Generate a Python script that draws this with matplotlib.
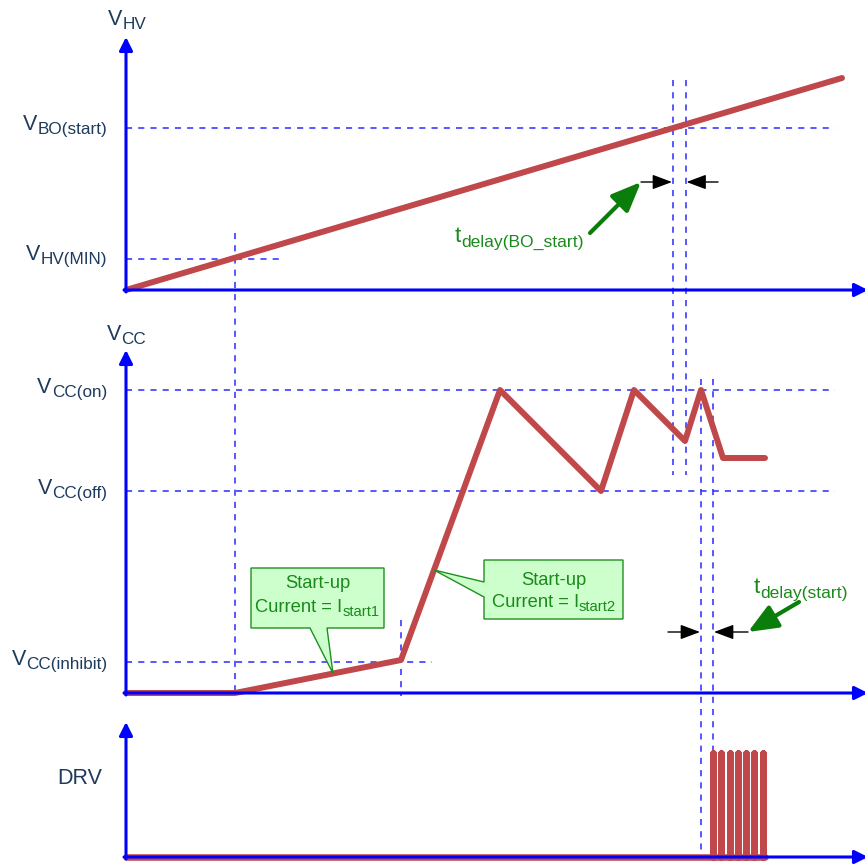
import matplotlib
matplotlib.use("Agg")
import matplotlib.pyplot as plt
from matplotlib.patches import Polygon, FancyArrowPatch

plt.rcParams['font.family'] = ['Liberation Sans', 'DejaVu Sans']

# ---------------- data (time in arbitrary units, levels in arbitrary units) -------------
t_hv = [0.0, 7.16]
v_hv = [0.0, 21.2]
V_HV_MIN = 3.1
V_BO_START = 16.2

t_vcc = [0.0, 1.09, 2.75, 3.74, 4.75, 5.08, 5.59, 5.75, 5.97, 6.39]
v_vcc = [0.0, 0.0, 3.3, 30.3, 20.2, 30.3, 25.2, 30.3, 23.5, 23.5]
VCC_ON = 30.3
VCC_OFF = 20.2
VCC_INHIBIT = 3.1

drv_pulse_t = [5.87, 5.953, 6.037, 6.12, 6.203, 6.283, 6.367]
DRV_HIGH = 10.4
drv_end = 6.39

T_HVMIN = 1.09
T_INHIBIT = 2.75
T_BO = 5.47
T_BO_DELAY = 5.595
T_ON = 5.75
T_START = 5.87

# ---------------- layout ----------------
BASE = {'hv': 575, 'cc': 172, 'drv': 8}
GAIN = 10.0
PX_PER_T = 100.0


def Y(panel, v):
    return BASE[panel] + v * GAIN


RED = '#c0474a'
BLUE = '#0000ff'
DASH = '#2a2aff'
NAVY = '#1e3a5c'
GREEN_T = '#1a8a1a'
GREEN_A = '#0b7d0b'

fig = plt.figure(figsize=(8.65, 8.65), dpi=100)
ax = fig.add_axes([0, 0, 1, 1])
ax.set_xlim(-1.26, 7.39)
ax.set_ylim(0, 865)
ax.axis('off')
renderer = fig.canvas.get_renderer()


def sublabel(x, y, main, sub, size, subsize, color, ha, drop=4, zorder=7):
    tm = ax.text(0, 0, main, fontsize=size, color=color, ha='left', va='baseline',
                 zorder=zorder)
    ts = ax.text(0, 0, sub, fontsize=subsize, color=color, ha='left', va='baseline',
                 zorder=zorder)
    wm = tm.get_window_extent(renderer).width / PX_PER_T
    ws = ts.get_window_extent(renderer).width / PX_PER_T
    total = wm + ws
    if ha == 'left':
        x0 = x
    elif ha == 'right':
        x0 = x - total
    else:
        x0 = x - total / 2
    tm.set_position((x0, y))
    ts.set_position((x0 + wm, y - drop))


dash_kw = dict(color=DASH, lw=1.1, linestyle=(0, (4, 4)), zorder=2)

# horizontal dashed levels
ax.plot([0, 7.09], [Y('hv', V_BO_START)] * 2, **dash_kw)
ax.plot([0, 1.54], [Y('hv', V_HV_MIN)] * 2, **dash_kw)
ax.plot([0, 7.09], [Y('cc', VCC_ON)] * 2, **dash_kw)
ax.plot([0, 7.09], [Y('cc', VCC_OFF)] * 2, **dash_kw)
ax.plot([0, 3.06], [Y('cc', VCC_INHIBIT)] * 2, **dash_kw)

# vertical dashed markers
ax.plot([T_HVMIN] * 2, [Y('hv', 5.7), Y('cc', -0.3)], **dash_kw)
ax.plot([T_INHIBIT] * 2, [Y('cc', 7.3), Y('cc', -0.3)], **dash_kw)
for tt in (T_BO, T_BO_DELAY):
    ax.plot([tt] * 2, [Y('hv', 21.0), Y('cc', 21.8)], **dash_kw)
for tt in (T_ON, T_START):
    ax.plot([tt] * 2, [Y('cc', 31.4), Y('drv', -0.3)], **dash_kw)

# traces
red_kw = dict(color=RED, lw=4.3, solid_capstyle='round', solid_joinstyle='round', zorder=3)
ax.plot(t_hv, [Y('hv', v) for v in v_hv], **red_kw)
ax.plot(t_vcc, [Y('cc', v) for v in v_vcc], **red_kw)
drv_t = [0.0]
drv_v = [0.0]
for tp in drv_pulse_t:
    drv_t += [tp, tp, tp]
    drv_v += [0.0, DRV_HIGH, 0.0]
drv_t.append(drv_end)
drv_v.append(0.0)
ax.plot(drv_t, [Y('drv', v) for v in drv_v], color=RED, lw=4.7,
        solid_capstyle='round', solid_joinstyle='round', zorder=3)


# axes with arrows
def axis_arrow(p0, p1):
    a = FancyArrowPatch(p0, p1, arrowstyle='-|>,head_length=8,head_width=4',
                        mutation_scale=1, color=BLUE, lw=2.2, shrinkA=0, shrinkB=0,
                        zorder=5)
    ax.add_patch(a)


axis_arrow((0, Y('hv', -0.2)), (0, Y('hv', 25.3)))
axis_arrow((-0.02, Y('hv', 0)), (7.42, Y('hv', 0)))
axis_arrow((0, Y('cc', -0.2)), (0, Y('cc', 34.3)))
axis_arrow((-0.02, Y('cc', 0)), (7.42, Y('cc', 0)))
axis_arrow((0, Y('drv', -0.2)), (0, Y('drv', 13.5)))
axis_arrow((-0.02, Y('drv', 0)), (7.42, Y('drv', 0)))

# labels
MS, SS = 15.5, 12.3
LX = -0.19
sublabel(LX, Y('hv', V_BO_START) - 2, 'V', 'BO(start)', MS, SS, NAVY, 'right')
sublabel(LX, Y('hv', V_HV_MIN) - 1, 'V', 'HV(MIN)', MS, SS, NAVY, 'right')
sublabel(LX, Y('cc', VCC_ON) - 3, 'V', 'CC(on)', MS, SS, NAVY, 'right')
sublabel(LX, Y('cc', VCC_OFF) - 3, 'V', 'CC(off)', MS, SS, NAVY, 'right')
sublabel(LX, Y('cc', VCC_INHIBIT) - 3, 'V', 'CC(inhibit)', MS, SS, NAVY, 'right')
ax.text(-0.235, Y('drv', 7.3), 'DRV', color=NAVY, fontsize=MS, ha='right', va='baseline')
sublabel(-0.18, Y('hv', 26.5), 'V', 'HV', MS, SS, NAVY, 'left')
sublabel(-0.19, Y('cc', 35.3), 'V', 'CC', MS, SS, NAVY, 'left')


# delay dimension arrows
def dim_arrow(p0, p1):
    a = FancyArrowPatch(p0, p1, arrowstyle='-|>,head_length=12,head_width=4.5',
                        mutation_scale=1, color='black', lw=1.0, shrinkA=0, shrinkB=0,
                        zorder=4)
    ax.add_patch(a)


yd1 = Y('hv', 10.8)
dim_arrow((5.15, yd1), (T_BO - 0.01, yd1))
dim_arrow((5.92, yd1), (T_BO_DELAY + 0.01, yd1))
yd2 = Y('cc', 6.1)
dim_arrow((5.42, yd2), (T_ON - 0.01, yd2))
dim_arrow((6.22, yd2), (T_START + 0.01, yd2))


def green_arrow(p0, p1):
    a = FancyArrowPatch(p0, p1, arrowstyle='-|>,head_length=18,head_width=7.5',
                        mutation_scale=1, color=GREEN_A, lw=3.0, shrinkA=0, shrinkB=0,
                        capstyle='round', zorder=4)
    ax.add_patch(a)


green_arrow((4.64, Y('hv', 5.7)), (5.15, yd1))
green_arrow((6.73, Y('cc', 9.1)), (6.22, yd2))

sublabel(3.29, Y('hv', 4.8), 't', 'delay(BO_start)', 16, 12.6, GREEN_T, 'left', drop=5)
sublabel(6.28, Y('cc', 10.0), 't', 'delay(start)', 16, 12.6, GREEN_T, 'left', drop=5)


# callouts
def interp(tq):
    for i in range(len(t_vcc) - 1):
        if t_vcc[i] <= tq <= t_vcc[i + 1]:
            f = (tq - t_vcc[i]) / (t_vcc[i + 1] - t_vcc[i])
            return v_vcc[i] + f * (v_vcc[i + 1] - v_vcc[i])
    return 0.0


tip1 = (2.07, Y('cc', interp(2.07)))
box1 = [(1.25, Y('cc', 12.5)), (2.58, Y('cc', 12.5)), (2.58, Y('cc', 6.5)),
        (2.01, Y('cc', 6.5)), tip1, (1.84, Y('cc', 6.5)), (1.25, Y('cc', 6.5))]
tip2 = (3.08, Y('cc', interp(3.08)))
box2 = [(3.58, Y('cc', 13.3)), (4.97, Y('cc', 13.3)), (4.97, Y('cc', 7.4)),
        (3.58, Y('cc', 7.4)), (3.58, Y('cc', 9.6)), tip2, (3.58, Y('cc', 11.1))]
for pts in (box1, box2):
    ax.add_patch(Polygon(pts, closed=True, facecolor='#ccffcc', edgecolor='#1f8f1f',
                         lw=1.0, zorder=6))

ax.text(1.915, Y('cc', 10.5), 'Start-up', color=GREEN_T, fontsize=13.2, ha='center',
        va='baseline', zorder=7)
sublabel(1.915, Y('cc', 8.1), 'Current = I', 'start1', 13.2, 10.6, GREEN_T, 'center', drop=4)
ax.text(4.28, Y('cc', 10.8), 'Start-up', color=GREEN_T, fontsize=13.2, ha='center',
        va='baseline', zorder=7)
sublabel(4.28, Y('cc', 8.6), 'Current = I', 'start2', 13.2, 10.6, GREEN_T, 'center', drop=4)

fig.savefig('out.png', dpi=100, facecolor='white')
